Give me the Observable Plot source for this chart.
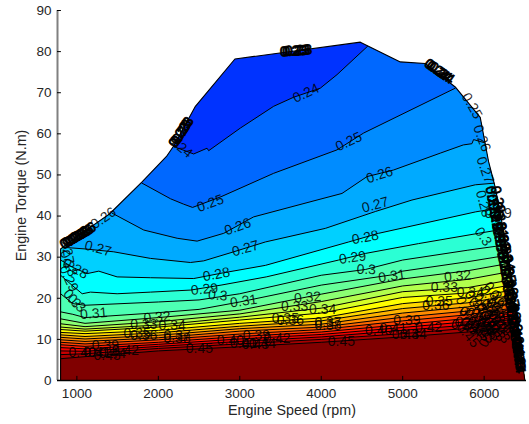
<!DOCTYPE html>
<html><head><meta charset="utf-8">
<script src="https://cdn.jsdelivr.net/npm/d3@7"></script>
<script src="https://cdn.jsdelivr.net/npm/@observablehq/plot@0.6"></script>
<style>html,body{margin:0;padding:0;background:#fff;overflow:hidden}svg{display:block}</style>
</head><body><div id="chart"></div>
<script>
const xTicks=[1000,2000,3000,4000,5000,6000];
const yTicks=[0,10,20,30,40,50,60,70,80,90];
// torque limit curve, left chain bottom to peak, right chain peak to bottom
const leftChain=[[800,0],[800,32],[1000,35],[1400,40.5],[1800,48.3],[2100,54.5],[2190,57.1],[2455,66.7],[2940,78.2],[4480,82.3]];
const rightChain=[[4480,82.3],[4971,77.5],[5277,77.1],[5645,71.4],[5952,64],[6054,53.3],[6136,47],[6300,30],[6400,15],[6500,0]];
const levels=[0.24,0.25,0.26,0.27,0.28,0.29,0.30,0.31,0.32,0.33,0.34,0.35,0.36,0.37,0.38,0.39,0.40,0.41,0.42,0.43,0.44,0.45];
const topBand="#0033ff";
const bandColors=["#0068ff","#008cff","#00aaff","#00d0ff","#00ffff","#2bffd4","#4dffb3","#66ff99","#8cff73","#b3ff4d","#d9ff26","#ffff00","#ffd900","#ffb300","#ff8c00","#ff6600","#ff4000","#ff1900","#f20000","#cc0000","#a60000","#800000"];
const contours=[
[[2189,56.9],[2434,55.1],[2598,56.5],[2618,55.9],[3007,61.4],[3416,66.7],[3661,68.9],[3988,71.1],[4194,74.4],[4569,81.3]],
[[1800,48],[2150,44.2],[2310,42.9],[2420,42.1],[2770,44.7],[3416,50.4],[4194,56.1],[4521,60.2],[5645,71.1]],
[[1433,40.7],[1821,36.6],[2231,34.6],[2476,33.9],[2803,35.8],[3170,39.8],[3948,43.9],[4255,45.5],[4562,49.6],[4888,51.2],[5461,55.3],[5744,57.3],[5850,57.6],[5870,58.6],[6010,57.8]],
[[830,32.4],[1100,32],[1453,31.3],[1903,29.7],[2394,28.7],[2557,29.1],[2925,31.3],[3314,33.7],[4050,37],[4664,41.1],[5114,43.9],[5891,47.6],[6125,48]],
[[800,29.3],[950,27.5],[1126,26],[1269,26.6],[1494,25.2],[1903,25],[2435,24.8],[2800,26.2],[3314,28],[4337,33.7],[4704,35.8],[5891,41],[6184,42]],
[[800,25.6],[950,23],[1065,21.1],[1167,21.5],[1494,21.1],[1905,21.5],[2399,22],[2770,23.2],[3325,25.2],[4214,29.3],[4541,30.9],[5195,33.3],[5931,35.8],[6234,36.8]],
[[800,21.1],[950,18.7],[1100,18.3],[2000,19.1],[2500,19.6],[3000,21.1],[4000,25.6],[4541,27],[5000,29.3],[5800,31.7],[6271,33]],
[[800,16.7],[950,16.1],[1100,15.3],[2000,16.5],[2500,17.3],[3000,19.1],[4000,23.2],[4868,25.7],[5000,26.6],[5800,28.9],[6295,30.5]],
[[800,15],[1100,13.9],[2000,15.3],[3000,17.1],[4000,21],[5000,24.7],[5800,26.7],[6310,28.5]],
[[800,13.8],[1100,13.1],[2000,14.3],[3000,16.2],[4000,19.2],[5000,23],[5800,24.6],[6323,26.5]],
[[800,13],[1100,12.5],[2000,13.5],[3000,15.4],[4000,17.6],[5000,21.6],[5800,22.6],[6337,24.5]],
[[800,12.4],[1100,12],[2000,13],[3000,14.7],[4000,16.4],[5000,20.2],[5800,21.3],[6345,23.3]],
[[800,11.7],[1100,11.4],[2000,12.2],[3000,13.9],[4000,15.2],[5000,18.7],[5800,20.1],[6353,22]],
[[800,11.1],[1100,10.7],[2000,11.6],[3000,13.2],[4000,14.5],[5000,17.5],[5800,18.9],[6361,20.8]],
[[800,10.5],[1100,10.1],[2000,11],[3000,12.6],[4000,13.7],[5000,16.4],[5800,17.9],[6369,19.7]],
[[800,9.9],[1100,9.5],[2000,10.4],[3000,12],[4000,13],[5000,15.4],[5800,16.9],[6375,18.7]],
[[800,9.3],[1100,8.9],[2000,9.9],[3000,11.3],[4000,12.4],[5000,14.5],[5800,16],[6382,17.7]],
[[800,8.7],[1100,8.3],[2000,9.3],[3000,10.7],[4000,11.8],[5000,13.6],[5800,15.1],[6388,16.8]],
[[800,8],[1100,7.7],[2000,8.8],[3000,10.1],[4000,11.2],[5000,12.9],[5800,14.3],[6394,15.9]],
[[800,7.2],[1100,7.1],[2000,8.3],[3000,9.5],[4000,10.6],[5000,12.2],[5800,13.5],[6400,15]],
[[800,6.3],[1100,6.5],[2000,7.8],[3000,8.9],[4000,10],[5000,11.4],[5800,12.7],[6407,14]],
[[800,5.3],[1100,5.8],[2000,7.2],[3000,8.2],[4000,9.3],[5000,10.6],[5800,11.8],[6413,13]]
];
// contour labels: text, speed, torque, angle
const inlineLabels=[
["0.24",3813,69.9,-25],["0.25",4337,58.1,-25],["0.26",4717,50,-18],["0.25",2639,43.1,-20],["0.26",2974,37.4,-20],["0.27",3069,32.1,-15],["0.27",4664,42.7,-15],["0.27",1261,32.1,15],
["0.28",2713,25.8,-10],["0.28",4541,34.8,-10],["0.29",2566,22.2,-5],["0.29",4385,29.9,-8],["0.3",2729,20.7,5],["0.3",4553,27,2],["0.31",3048,19.3,-8],["0.31",4868,25.4,-8],["0.31",1207,16.3,-5],
["0.32",1985,15.4,-5],["0.33",1821,13.7,0],["0.34",2169,13.3,0],["0.35",1740,11.4,0],["0.36",1821,11,0],["0.37",2230,11,0],["0.38",2230,10.3,0],["0.45",2504,7.7,0],
["0.40",1065,6.8,0],["0.39",1351,8.5,0],["0.41",1249,6.9,0],["0.43",1372,6.1,0],["0.44",1435,6.5,0],["0.42",1596,7.3,0],
["0.45",4247,9.6,0],["0.32",3833,20.2,-5],["0.33",3674,18,0],["0.34",4017,17.3,0],["0.35",3559,15,0],["0.36",3621,14.5,0],["0.37",4083,14.1,0],["0.38",4083,13.3,0],
["0.39",3204,11,0],["0.40",2885,9.8,0],["0.41",3046,9,0],["0.43",3192,8.8,0],["0.44",3277,9,0],["0.42",3457,10.2,0],
["0.40",4704,12.2,0],["0.41",4884,12.7,0],["0.39",5052,14.5,0],["0.43",5032,11.2,0],["0.44",5130,11.2,0],["0.42",5318,12.8,0],
["0.32",5674,25.4,-5],["0.33",5511,22.6,0],["0.34",5830,21.5,0],["0.35",5449,19.3,0],["0.36",5408,18.2,0],["0.37",5756,17.2,70],
["0.45",5800,11,50],["0.45",6060,11.2,-60],
["0.25",5851,66.8,60],["0.26",5973,58.9,70],["0.27",6012,51.2,70],["0.28",5992,43,75],["0.29",6171,40.6,0],["0.3",5988,35,55],
["0.27",881,31.7,80],["0.28",900,28.5,70],["0.28",983,27.2,30],["0.29",900,24.8,65],["0.3",942,19.9,50],["0.3",995,18.8,45],["0.26",1326,39.5,-35],["0.24",2271,56.9,40]
];
const edgeLabels=[
["0.23",2260,59.8,-58],["0.23",2283,60.4,-58],["0.23",2305,61,-58],
["0.23",3660,80.1,-4],["0.23",3690,80.2,-4],["0.23",3720,80.3,-4],
["0.24",5420,75.6,35],["0.24",5450,75.2,35],["0.24",5480,74.8,35],
["0.26",950,34.4,-30],["0.26",980,34.8,-30],["0.26",1013,35.1,-30],["0.26",1045,35.5,-30],["0.26",1075,36,-30]
];
const stackLabels=[
["0.27",6105,44,78],["0.28",6125,42,78],["0.29",6140,40,78],["0.28",6155,38,78],["0.3",6175,36,78],["0.29",6195,34,78],["0.3",6215,32,78],["0.31",6230,30,78],["0.32",6250,28,78],["0.33",6270,26,78],
["0.34",6285,24,78],["0.35",6300,22,78],["0.36",6315,20,78],["0.37",6330,18,78],["0.38",6345,16,78],["0.39",6360,14,78],["0.40",6375,12,78],["0.41",6390,10,78],["0.42",6405,8,80],["0.43",6420,6,80],["0.44",6425,5,82],
["0.29",6170,44,78],["0.3",6180,41,78],["0.31",6205,38,78],["0.32",6230,35,78],["0.33",6260,32,78],["0.34",6285,30,78],["0.35",6300,27,78],["0.36",6325,24,78],["0.37",6340,21,78],["0.38",6360,18,78],
["0.39",6380,15,78],["0.40",6395,12,78],["0.41",6410,9,78],["0.42",6420,7,80],["0.43",6425,5.5,82]
];
const speckleLabels=[
["0.37",5900,19,50],["0.38",5960,17.5,40],["0.37",6020,18.5,45],["0.36",6080,20,55],["0.36",6140,21,50],["0.37",6200,19,50],
["0.39",5850,15.5,30],["0.39",5920,15,40],["0.40",5980,15,45],["0.39",6040,16,50],["0.38",6100,17,45],["0.38",6160,17,50],["0.39",6220,16,50],
["0.41",5800,13.5,20],["0.41",5870,13,35],["0.42",5940,13,40],["0.41",6010,13.5,45],["0.41",6070,14,50],["0.40",6130,14.5,45],["0.41",6190,14,50],["0.41",6250,14,55],
["0.42",5760,13,15],["0.43",5900,12,30],["0.43",5980,11.8,40],["0.43",6050,12.5,45],["0.43",6120,12.5,50],["0.43",6180,12,50]
];

const X0=762,X1=6520;
const bandPolygon=(line)=>{
  const [,y0]=line[0],[,y1]=line[line.length-1];
  return [...line,...rightChain.filter(p=>p[1]<y1),...leftChain.filter(p=>p[1]<y0)];
};
const outline=[...leftChain,...rightChain.slice(1),leftChain[0]];
const fontFamily='"Liberation Sans",Arial,sans-serif';
const px=d=>d[0],py=d=>d[1];
const labelChannels={text:d=>d[0],x:d=>d[1],y:d=>d[2],rotate:d=>d[3],fontSize:14,fill:"#000"};
const plot=Plot.plot({
  width:529,height:424,marginLeft:57,marginRight:3,marginTop:10,marginBottom:44,
  style:{fontFamily,background:"#fff",overflow:"visible"},
  x:{domain:[X0,X1]},y:{domain:[0,90]},
  marks:[
    Plot.line(outline,{x:px,y:py,fill:topBand,stroke:"none",curve:"linear"}),
    ...contours.map((c,i)=>Plot.line(bandPolygon(c),{x:px,y:py,fill:bandColors[i],stroke:"none",curve:"linear"})),
    ...contours.map(c=>Plot.line(c,{x:px,y:py,stroke:"#000",strokeWidth:1,curve:"linear"})),
    Plot.line(outline,{x:px,y:py,stroke:"#000",strokeWidth:1.1,curve:"linear"}),
    Plot.text(inlineLabels,{...labelChannels,fillOpacity:0.85}),
    Plot.text(edgeLabels,{...labelChannels,stroke:"#000",strokeWidth:0.8}),
    Plot.text(speckleLabels,{...labelChannels,fillOpacity:0.9}),
    Plot.text(stackLabels,{...labelChannels,stroke:"#000",strokeWidth:0.7}),
    Plot.ruleX([X0],{stroke:"#808080",strokeWidth:2}),
    Plot.ruleY([0],{x1:X0,x2:X1,stroke:"#000",strokeWidth:1.5}),
    Plot.ruleY(yTicks,{x1:X0,x2:X0+48,stroke:"#000",strokeWidth:1}),
    Plot.ruleX(xTicks,{y1:0,y2:1,stroke:"#000",strokeWidth:1}),
    Plot.axisX({ticks:xTicks,tickSize:0,tickPadding:8,fontSize:13.5,label:null,tickFormat:d=>String(d),color:"#262626"}),
    Plot.axisY({ticks:yTicks,tickSize:0,tickPadding:6,fontSize:13.5,label:null,color:"#262626"}),
    Plot.axisX({ticks:[],tickSize:0,fontSize:14.3,label:"Engine Speed (rpm)",labelAnchor:"center",labelArrow:"none",labelOffset:34,color:"#262626"}),
    Plot.axisY({ticks:[],tickSize:0,fontSize:14.3,label:"Engine Torque (N.m)",labelAnchor:"center",labelArrow:"none",labelOffset:42,color:"#262626"})
  ]
});
document.getElementById("chart").appendChild(plot);
</script></body></html>
